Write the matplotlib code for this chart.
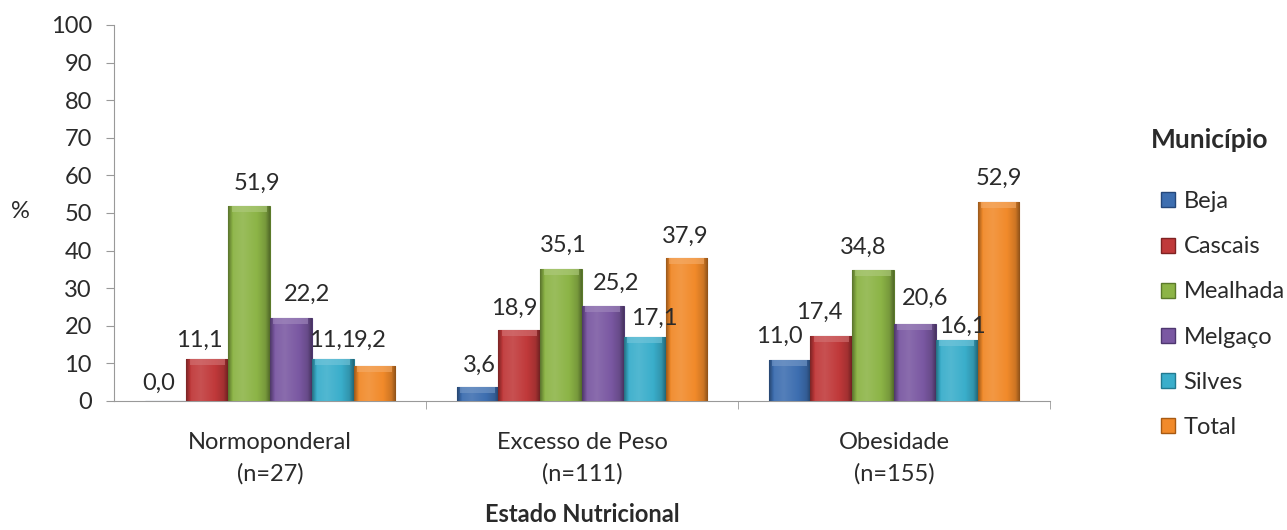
import matplotlib
matplotlib.use("Agg")
import matplotlib.pyplot as plt
import numpy as np
from matplotlib.patches import Patch
from matplotlib.colors import to_rgb

plt.rcParams['font.family'] = ['Lato', 'DejaVu Sans']

categories = ["Normoponderal\n(n=27)", "Excesso de Peso\n(n=111)", "Obesidade\n(n=155)"]
series_names = ["Beja", "Cascais", "Mealhada", "Melgaço", "Silves", "Total"]
beja = [0.0, 3.6, 11.0]
cascais = [11.1, 18.9, 17.4]
mealhada = [51.9, 35.1, 34.8]
melgaco = [22.2, 25.2, 20.6]
silves = [11.1, 17.1, 16.1]
total = [9.2, 37.9, 52.9]
values = [beja, cascais, mealhada, melgaco, silves, total]
colors = ["#3d6eb0", "#c0393a", "#8cb446", "#7a58a2", "#3aaecb", "#f18a2a"]
edges = ["#24477a", "#7f2222", "#5b7a2a", "#4e3770", "#227a90", "#a85a12"]

# data-label nudges (pixels) as placed in the original chart
label_dx = [[-7, 2, -10], [-8, -5, -12], [8, 2, -10], [16, 13, 10], [0, 10, 6], [-4, -1, 0]]
label_dy = [[18, 22, 23], [19, 22, 23], [22, 24, 23], [23, 23, 25], [19, 18, 14], [26, 22, 24]]

FS = 17
TXT = "#2a2a2a"
PX = 72 / 100  # points per pixel

fig = plt.figure(figsize=(12.87, 5.30), dpi=100)
ax = fig.add_axes([0.0886, 0.2434, 0.7272, 0.7096])


def shade(c, f):
    r = np.array(to_rgb(c))
    if f >= 0:
        return r + (1 - r) * f
    return r * (1 + f)


x = np.arange(len(categories))
w = 0.134
n = len(series_names)
for i, (vals, c, e) in enumerate(zip(values, colors, edges)):
    pos = x + (i - (n - 1) / 2) * w
    bars = ax.bar(pos, vals, width=w, color=c, edgecolor=e, linewidth=0.8, zorder=3)
    t = np.linspace(0, 1, 60)
    f = np.interp(t, [0, 0.12, 0.35, 0.7, 0.9, 1.0], [-0.35, 0.05, 0.12, 0.0, -0.15, -0.4])
    grad = np.array([shade(c, v) for v in f])[None, :, :]
    for b in bars:
        x0, y0 = b.get_x(), b.get_y()
        bw, bh = b.get_width(), b.get_height()
        if bh <= 0:
            continue
        im = ax.imshow(grad, extent=[x0, x0 + bw, y0, y0 + bh], aspect='auto',
                       zorder=3.5, interpolation='bilinear')
        im.set_clip_path(b)
        top_h = min(1.6, bh * 0.5)
        ax.fill_between([x0 + bw * 0.08, x0 + bw * 0.92], y0 + bh - top_h, y0 + bh,
                        color=shade(c, 0.3), alpha=0.6, zorder=3.6, linewidth=0)
    for j, (p, v) in enumerate(zip(pos, vals)):
        ax.annotate(f"{v:.1f}".replace(".", ","), xy=(p, v),
                    xytext=(label_dx[i][j] * PX, label_dy[i][j] * PX),
                    textcoords="offset points", ha="center", va="center",
                    fontsize=FS, color=TXT, zorder=5)

ax.set_xlim(-0.5, 2.5)
ax.set_ylim(0, 100)
ax.set_yticks(np.arange(0, 101, 10))
ax.tick_params(axis='y', labelsize=FS, length=6, color="#999999", pad=10, labelcolor=TXT)
ax.set_xticks(x)
ax.set_xticklabels(categories, fontsize=FS, color=TXT, linespacing=1.6)
ax.tick_params(axis='x', length=0, pad=22)
ax.set_xticks([0.5, 1.5, 2.5], minor=True)
ax.tick_params(axis='x', which='minor', length=6, color="#999999", direction='out')
for s in ["top", "right"]:
    ax.spines[s].set_visible(False)
ax.spines["left"].set_color("#999999")
ax.spines["bottom"].set_color("#999999")

fig.text(0.0155, 0.60, "%", fontsize=FS, ha="center", va="center", color=TXT)
fig.text(0.4521, 0.008, "Estado Nutricional", fontsize=FS, fontweight="bold",
         ha="center", va="bottom", color=TXT)
fig.text(0.9402, 0.7358, "Município", fontsize=19, fontweight="bold",
         ha="center", va="center", color=TXT)

handles = [Patch(facecolor=c, edgecolor=e, label=nm) for nm, c, e in zip(series_names, colors, edges)]
leg = fig.legend(handles=handles, loc="center left", bbox_to_anchor=(0.893, 0.4066),
                 frameon=False, fontsize=FS,
                 handlelength=0.6, handleheight=0.6, handletextpad=0.35,
                 labelspacing=1.02, borderpad=0)
for txt in leg.get_texts():
    txt.set_color(TXT)

fig.savefig("out.png", dpi=100)
